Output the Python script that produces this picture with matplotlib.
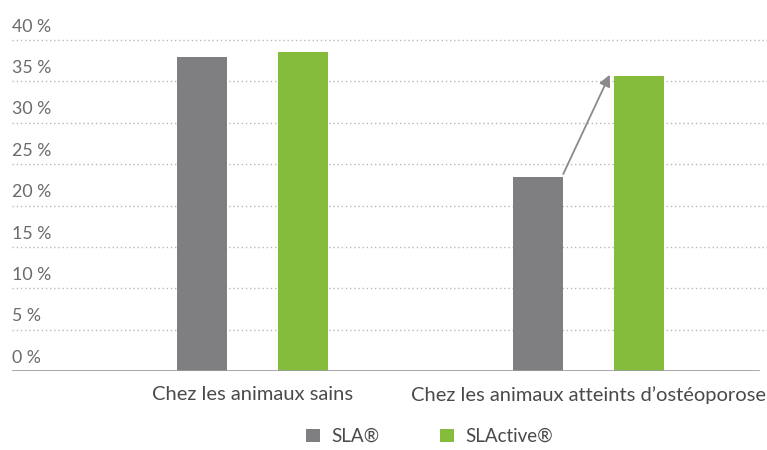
import numpy as np
import matplotlib.pyplot as plt

# values (percent)
categories = ["Chez les animaux sains", "Chez les animaux atteints d\u2019ostéoporose"]
sla = [38.0, 23.5]
slactive = [38.5, 35.7]
series_names = ["SLA®", "SLActive®"]
yticks = [0, 5, 10, 15, 20, 25, 30, 35, 40]

gray = "#7f7f81"
green = "#86bc3c"

plt.rcParams["font.family"] = ["Lato", "DejaVu Sans"]

fig = plt.figure(figsize=(7.67, 4.5), dpi=100)
ax = fig.add_axes([12 / 767, 79 / 450, 755 / 767, 331 / 450])

x = np.arange(len(categories))
w = 0.149
off = 0.15
b1 = ax.bar(x - off, sla, w, color=gray, label=series_names[0], zorder=3)
b2 = ax.bar(x + off, slactive, w, color=green, label=series_names[1], zorder=3)

ax.set_xlim(-0.716, 1.531)
ax.set_ylim(0, 40)

# dotted grid + labels sitting above each line
for t in yticks[1:]:
    ax.axhline(t, color="#b8b8b8", lw=1, ls=(0, (1, 2)), zorder=1, clip_on=False)
for t in yticks:
    ax.text(-0.716, t + 1.0, f"{t} %", ha="left", va="baseline",
            fontsize=12.8, color="#6a6a6a")

ax.axhline(0, xmin=0, xmax=0.99, color="#9a9a9a", lw=1.2, zorder=4)

for s in ax.spines.values():
    s.set_visible(False)
ax.set_yticks([])
ax.set_xticks(x)
ax.set_xticklabels(categories, fontsize=14.5, color="#4a4a4a")
ax.tick_params(axis="x", length=0, pad=11)

# arrow from the SLA bar to the SLActive bar (osteoporosis group)
ax.annotate("", xy=(x[1] + off - 0.087, slactive[1] + 0.1),
            xytext=(x[1] - off + w / 2, sla[1] + 0.3),
            arrowprops=dict(arrowstyle="-|>", color="#8a8a8a", lw=1.3,
                            mutation_scale=17, shrinkA=0, shrinkB=0), zorder=5)

fig.legend(handles=[b1, b2], labels=series_names, loc="center",
           bbox_to_anchor=(0.56, 0.03), ncol=2, frameon=False,
           fontsize=13.5, handlelength=0.75, handleheight=0.75,
           columnspacing=3.2, handletextpad=0.6, labelcolor="#4a4a4a",
           borderpad=0.2)

fig.savefig("out.png", dpi=100)
